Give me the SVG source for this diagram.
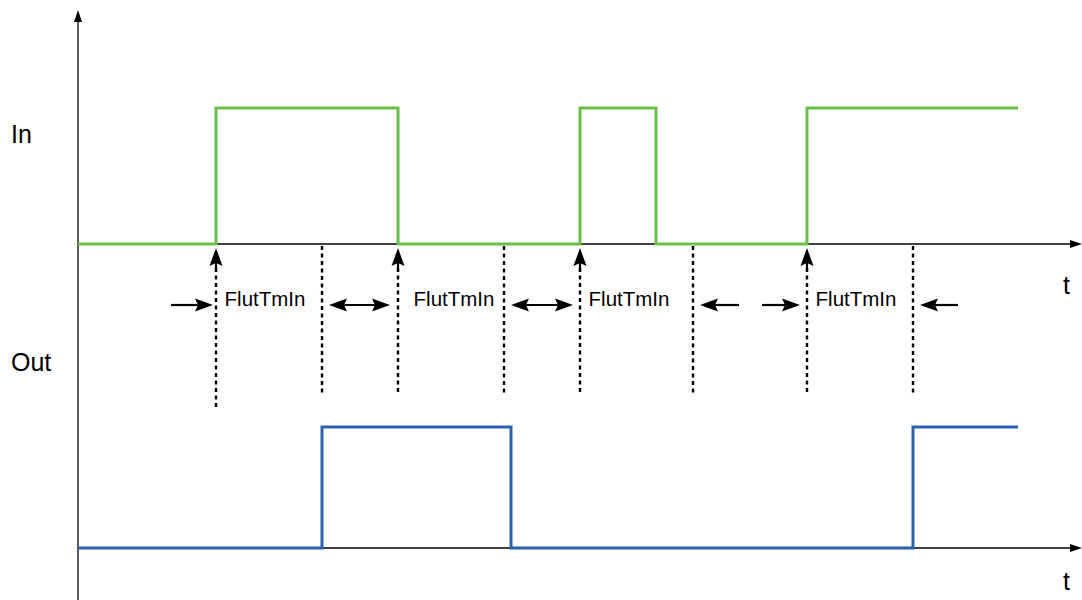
<svg xmlns="http://www.w3.org/2000/svg" xmlns:xlink="http://www.w3.org/1999/xlink" width="1082" height="600" viewBox="0 0 1082 600">
<style>
.axis{stroke:#000;stroke-width:1.3;fill:none}
.dot{stroke:#000;stroke-width:2.4;stroke-dasharray:4 3.5;fill:none}
.arr{stroke:#000;stroke-width:2.2;fill:none}
.lbl{font-family:"Liberation Sans",Arial,sans-serif;fill:#000}
.ft{font-size:20.5px}
.big{font-size:25px}
</style>
<defs>
<path id="head" d="M0,0 L-18,-6.5 L-15,0 L-18,6.5 Z" fill="#000"/>
<path id="axhead" d="M0,0 L-12,-4 L-12,4 Z" fill="#000"/>
</defs>
<rect width="1082" height="600" fill="#fff"/>
<g id="axes">
<line class="axis" x1="78" y1="600" x2="78" y2="20"/>
<use href="#axhead" xlink:href="#axhead" transform="translate(78,10) rotate(-90)"/>
<line class="axis" x1="78" y1="244" x2="1072" y2="244"/>
<use href="#axhead" xlink:href="#axhead" transform="translate(1082,244)"/>
<line class="axis" x1="78" y1="548" x2="1072" y2="548"/>
<use href="#axhead" xlink:href="#axhead" transform="translate(1082,548)"/>
</g>
<g id="signal-in">
<polyline fill="none" stroke="#6abf4b" stroke-width="3" points="78,244 216,244 216,108 398,108 398,244 580,244 580,108 656,108 656,244 807,244 807,108 1018,108"/>
</g>
<g id="signal-out">
<polyline fill="none" stroke="#2a62b0" stroke-width="3" points="78,548 322,548 322,427 511,427 511,548 913,548 913,427 1018,427"/>
</g>
<g id="connectors">
<line class="dot" x1="216" y1="268" x2="216" y2="408"/>
<line class="dot" x1="322" y1="246" x2="322" y2="395"/>
<line class="dot" x1="398" y1="268" x2="398" y2="395"/>
<line class="dot" x1="504" y1="246" x2="504" y2="395"/>
<line class="dot" x1="580" y1="268" x2="580" y2="395"/>
<line class="dot" x1="693" y1="246" x2="693" y2="395"/>
<line class="dot" x1="807" y1="268" x2="807" y2="395"/>
<line class="dot" x1="913" y1="246" x2="913" y2="395"/>
<line class="arr" x1="216" y1="272" x2="216" y2="260"/>
<use href="#head" xlink:href="#head" transform="translate(216,248) rotate(-90)"/>
<line class="arr" x1="398" y1="272" x2="398" y2="260"/>
<use href="#head" xlink:href="#head" transform="translate(398,248) rotate(-90)"/>
<line class="arr" x1="580" y1="272" x2="580" y2="260"/>
<use href="#head" xlink:href="#head" transform="translate(580,248) rotate(-90)"/>
<line class="arr" x1="807" y1="272" x2="807" y2="260"/>
<use href="#head" xlink:href="#head" transform="translate(807,248) rotate(-90)"/>
<line class="arr" x1="171" y1="305" x2="200" y2="305"/>
<use href="#head" xlink:href="#head" transform="translate(213,305)"/>
<line class="arr" x1="340" y1="305" x2="378" y2="305"/>
<use href="#head" xlink:href="#head" transform="translate(329,305) rotate(180)"/>
<use href="#head" xlink:href="#head" transform="translate(390,305)"/>
<line class="arr" x1="522" y1="305" x2="561" y2="305"/>
<use href="#head" xlink:href="#head" transform="translate(511,305) rotate(180)"/>
<use href="#head" xlink:href="#head" transform="translate(573,305)"/>
<line class="arr" x1="739" y1="305" x2="712" y2="305"/>
<use href="#head" xlink:href="#head" transform="translate(700,305) rotate(180)"/>
<line class="arr" x1="762" y1="305" x2="788" y2="305"/>
<use href="#head" xlink:href="#head" transform="translate(800,305)"/>
<line class="arr" x1="958" y1="305" x2="932" y2="305"/>
<use href="#head" xlink:href="#head" transform="translate(920,305) rotate(180)"/>
</g>
<g id="labels">
<text class="lbl big" x="11" y="143">In</text>
<text class="lbl big" x="11" y="371">Out</text>
<text class="lbl big" x="1063" y="294">t</text>
<text class="lbl big" x="1063" y="590">t</text>
<text class="lbl ft" x="265" y="306" text-anchor="middle">FlutTmIn</text>
<text class="lbl ft" x="454" y="306" text-anchor="middle">FlutTmIn</text>
<text class="lbl ft" x="629" y="306" text-anchor="middle">FlutTmIn</text>
<text class="lbl ft" x="856" y="306" text-anchor="middle">FlutTmIn</text>
</g>
</svg>
